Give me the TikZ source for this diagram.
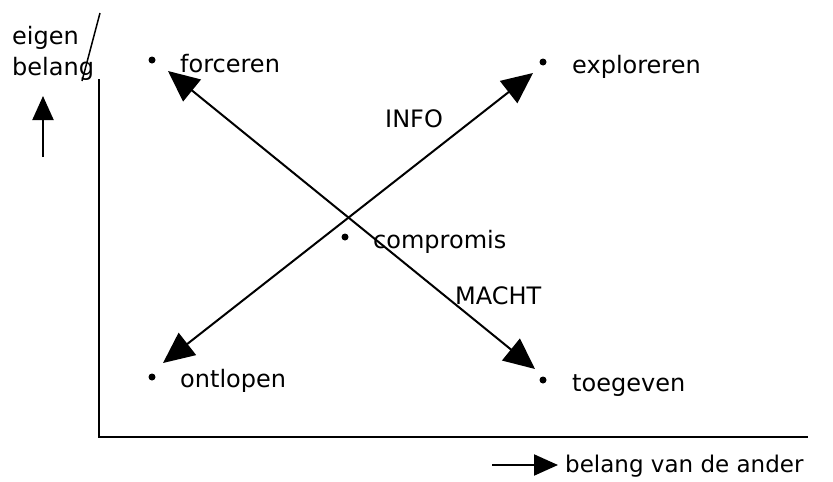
\documentclass[tikz,border=0pt]{standalone}
\usepackage{fontspec}
\setmainfont{DejaVu Sans}
\usetikzlibrary{arrows.meta}
\begin{document}
\begin{tikzpicture}[x=1pt,y=-1pt,
  lbl/.style={anchor=base west,inner sep=0pt,font=\fontsize{24}{28}\selectfont},
  dot/.style={circle,fill=black,inner sep=0pt,minimum size=7pt},
  ln/.style={line width=2pt},
  bigarrow/.style={ln,{Triangle[length=31pt,width=28pt]}-{Triangle[length=31pt,width=28pt]}},
  axarrow/.style={ln,-{Triangle[length=24pt,width=21pt]}}]
\useasboundingbox (0,0) rectangle (833,482);
% axes
\coordinate (ytop) at (99,79);
\coordinate (orig) at (99,437);
\coordinate (xend) at (808,437);
\draw[ln] (ytop) -- (orig) -- (xend);
% labels on axes
\node[lbl] (eigen) at (12,44) {eigen};
\node[lbl] (belang) at (12,75) {belang};
\coordinate (s1) at (100,13);
\coordinate (s2) at (82,81);
\draw[line width=1.5pt] (s1) -- (s2);
\coordinate (ua1) at (43,157);
\coordinate (ua2) at (43,96);
\draw[axarrow] (ua1) -- (ua2);
\coordinate (ra1) at (492,465);
\coordinate (ra2) at (558,465);
\draw[axarrow] (ra1) -- (ra2);
\node[lbl,font=\fontsize{23}{28}\selectfont] (ander) at (565,472) {belang van de ander};
% items
\node[dot] (d1) at (152,60) {};
\node[lbl] (forc) at (180,72) {forceren};
\node[dot] (d2) at (543,62) {};
\node[lbl] (expl) at (572,73) {exploreren};
\node[dot] (d3) at (345,237) {};
\node[lbl] (comp) at (373,248) {compromis};
\node[dot] (d4) at (152,377) {};
\node[lbl] (ontl) at (180,387) {ontlopen};
\node[dot] (d5) at (543,380) {};
\node[lbl] (toeg) at (572,391) {toegeven};
\node[lbl] (info) at (385,127) {INFO};
\node[lbl] (macht) at (455,304) {MACHT};
% big arrows
\coordinate (a1) at (168,71);
\coordinate (a2) at (535,369);
\coordinate (b1) at (163,363);
\coordinate (b2) at (533,73);
\draw[bigarrow] (a1) -- (a2);
\draw[bigarrow] (b1) -- (b2);
\end{tikzpicture}
\end{document}
